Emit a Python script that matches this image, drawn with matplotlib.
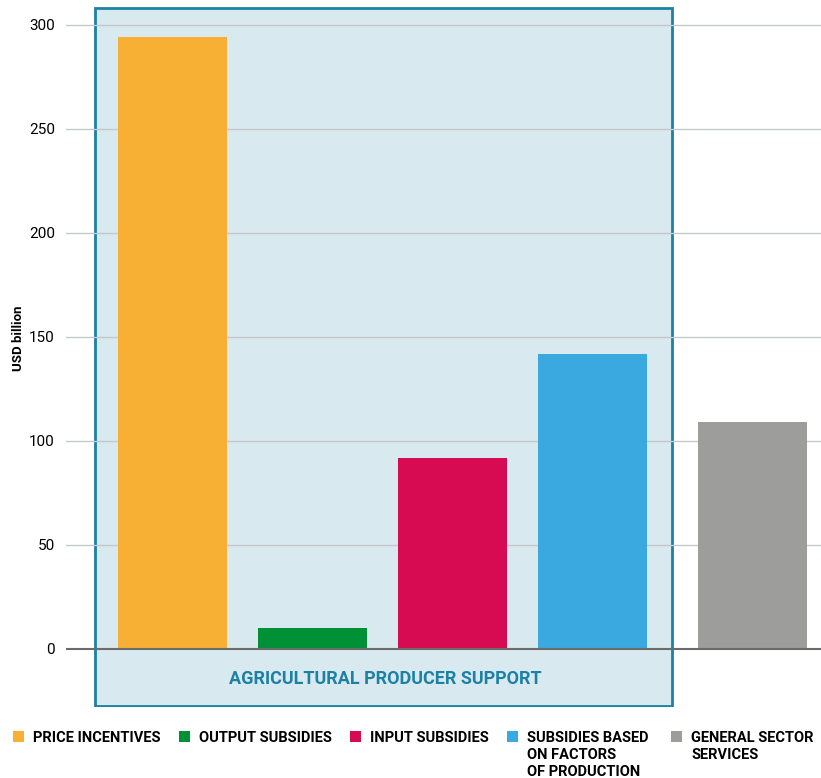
import matplotlib
matplotlib.use("Agg")
import matplotlib.pyplot as plt
from matplotlib.patches import Rectangle

categories = ["PRICE INCENTIVES", "OUTPUT SUBSIDIES", "INPUT SUBSIDIES",
              "SUBSIDIES BASED\nON FACTORS\nOF PRODUCTION", "GENERAL SECTOR\nSERVICES"]
values = [294, 10, 92, 142, 109]
colors = ["#F7B033", "#009036", "#D60B51", "#3AA9E0", "#9D9D9C"]
yticks = [0, 50, 100, 150, 200, 250, 300]
box_label = "AGRICULTURAL PRODUCER SUPPORT"

plt.rcParams['font.family'] = ['Roboto', 'DejaVu Sans']

fig = plt.figure(figsize=(8.21, 7.78), dpi=100)
ax = fig.add_axes([66/821, 0.091, 1 - 66/821, 0.9037])

pos = [0, 1, 2, 3, 4.143]
ax.set_xlim(-0.761, 4.632)
ax.set_ylim(-28, 310)

# shaded box around producer support bars
box = Rectangle((-0.554, -27.4), 3.568 + 0.554, 308.2 + 27.4,
                facecolor="#D9E9F0", edgecolor="#1C81A4", linewidth=2, zorder=1)
ax.add_patch(box)

for y in yticks[1:]:
    ax.axhline(y, color="#c4c8cb", linewidth=1, zorder=2)
ax.axhline(0, color="#6b6b6b", linewidth=1.5, zorder=4)

ax.bar(pos, values, width=0.78, color=colors, zorder=3)

ax.text(1.52, -14.3, box_label, ha="center", va="center", color="#1C81A4",
        fontsize=13, fontweight="bold", zorder=5)

ax.set_yticks(yticks)
ax.set_yticklabels([str(t) for t in yticks], fontsize=11)
ax.tick_params(axis="y", length=0, pad=8)
ax.set_xticks([])
for s in ax.spines.values():
    s.set_visible(False)

fig.text(18/821, 1 - 338/778, "USD billion", rotation=90, ha="center", va="center",
         fontsize=9.5, fontweight="bold")

# legend drawn by hand to match the layout
leg_x = [13, 179, 350, 507, 671]
for x, lab, c in zip(leg_x, categories, colors):
    fig.patches.append(Rectangle((x/821, 1 - 742/778), 11/821, 11/778,
                                 facecolor=c, transform=fig.transFigure, figure=fig))
    fig.text((x + 20)/821, 1 - 731/778, lab, ha="left", va="top", fontsize=10.5,
             fontweight="bold", linespacing=1.25)

fig.savefig("out.png", dpi=100)
